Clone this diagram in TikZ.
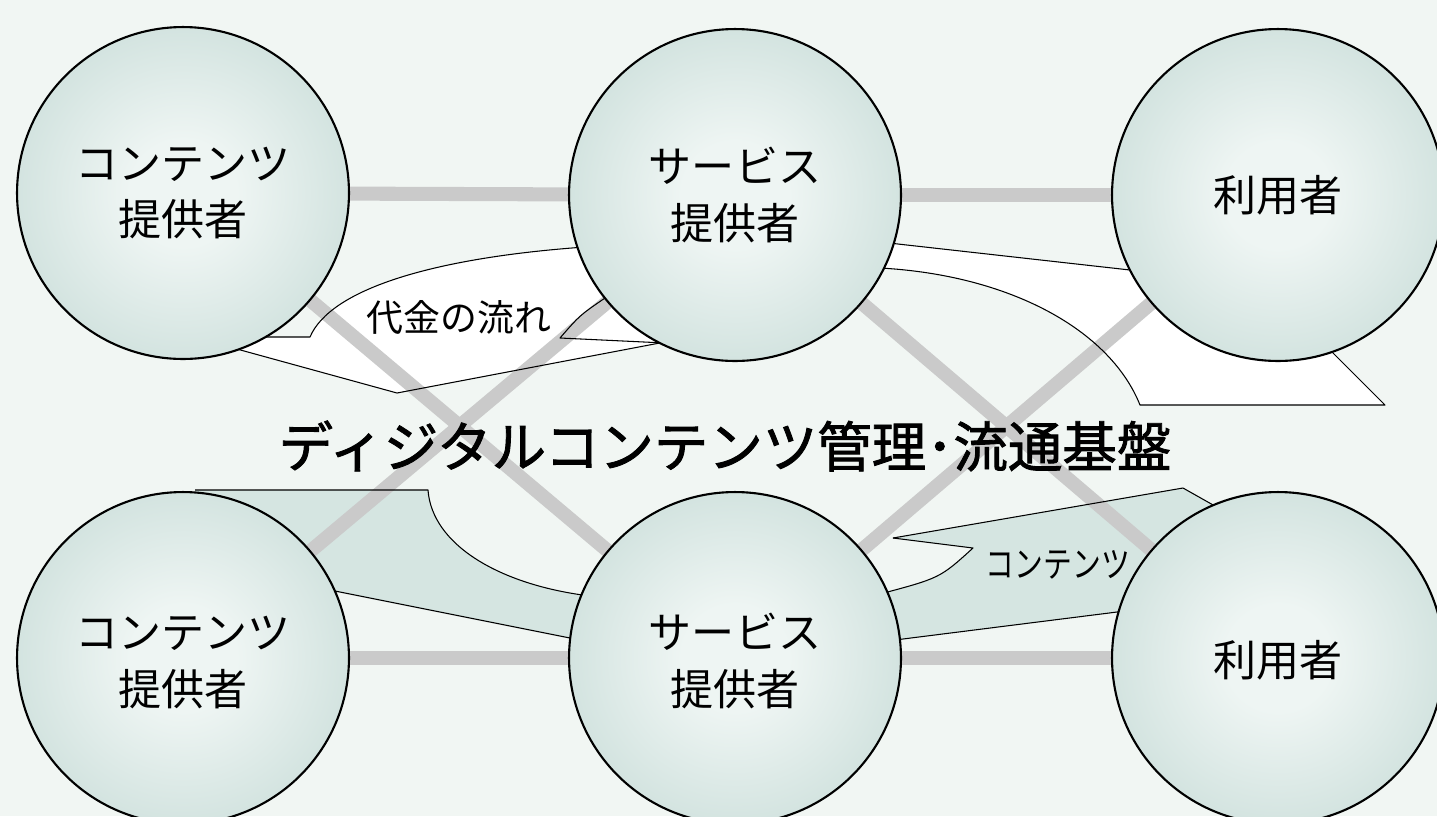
\documentclass[tikz,border=0pt]{standalone}
\usepackage{fontspec}
\newfontfamily\cjk{Noto Sans CJK JP}
\newfontfamily\cjkt[FakeBold=1.6]{Noto Sans CJK JP}
\definecolor{bgc}{RGB}{241,246,243}
\definecolor{circin}{RGB}{238,245,243}
\definecolor{circout}{RGB}{172,202,196}
\definecolor{bandteal}{RGB}{213,229,225}
\definecolor{barc}{RGB}{202,202,202}
\pgfdeclareradialshading{ballshade}{\pgfpoint{0bp}{0bp}}{color(0bp)=(circin); color(8bp)=(circin); color(50bp)=(circout)}
\pgfdeclarelayer{bandfill}
\pgfdeclarelayer{bars}
\pgfdeclarelayer{bandline}
\pgfsetlayers{bandfill,bars,bandline,main}
\tikzset{
  actor/.style={circle, draw=black, line width=1.2pt, minimum size=6.64cm, inner sep=0pt,
    shading=ballshade, align=center, font=\cjk\fontsize{24.5pt}{32.4pt}\selectfont},
  bar/.style={draw=barc, line width=8pt, shorten <=-8pt, shorten >=-8pt},
  bandline/.style={draw=black, line width=0.6pt, line join=round},
}
\begin{document}
\begin{tikzpicture}[x=0.02cm,y=-0.02cm]
\useasboundingbox (0,0) rectangle (1437,816);
\begin{pgfonlayer}{bandfill}
  \fill[bgc] (0,0) rectangle (1437,816);
  % money flow band, right part
  \fill[white] (880,242) -- (1130,270) -- (1300,330) -- (1325,345) -- (1385,405) -- (1140,405)
     .. controls (1110,330) and (1010,275) .. (880,268) -- (860,255) -- cycle;
  % money flow band, left part
  \fill[white] (585,247) .. controls (430,258) and (330,290) .. (310,337) -- (240,337) -- (215,343)
     -- (397,393) -- (665,342) -- (640,280) -- cycle;
  % content band, left part
  \fill[bandteal] (195,490) -- (428,490) .. controls (432,545) and (500,585) .. (590,596)
     -- (590,642) -- (320,588) -- (250,560) -- cycle;
  % content band, right part
  \fill[bandteal] (973,548) -- (893,538) -- (1183,488) -- (1222,510) -- (1250,560) -- (1125,611)
     -- (895,640) -- (870,600) -- (880,594) .. controls (940,578) .. (973,548) -- cycle;
\end{pgfonlayer}

\node[actor] (tl) at (183,193) {コンテンツ\\提供者};
\node[actor] (tm) at (735,195) {サービス\\提供者};
\node[actor] (tr) at (1278,195) {利用者};
\node[actor] (bl) at (183,658) {\\[-9pt]コンテンツ\\提供者};
\node[actor] (bm) at (735,658) {\\[-9pt]サービス\\提供者};
\node[actor] (br) at (1278,658) {\\[-9pt]利用者};

\begin{pgfonlayer}{bars}
  \draw[bar] (tl) -- (tm);
  \draw[bar] (tm) -- (tr);
  \draw[bar] (bl) -- (bm);
  \draw[bar] (bm) -- (br);
  \draw[bar] (tl) -- (bm);
  \draw[bar] (bl) -- (tm);
  \draw[bar] (tm) -- (br);
  \draw[bar] (bm) -- (tr);
\end{pgfonlayer}

\begin{pgfonlayer}{bandline}
  % money flow
  \draw[bandline] (880,242) -- (1130,270);
  \draw[bandline] (880,268) .. controls (1010,275) and (1110,330) .. (1140,405) -- (1385,405) -- (1320,340);
  \draw[bandline] (585,247) .. controls (430,258) and (330,290) .. (310,337) -- (240,337);
  \draw[bandline] (215,343) -- (397,393) -- (665,342);
  \draw[bandline] (608,296) .. controls (580,315) .. (560,338) -- (665,343);
  % content
  \draw[bandline] (195,490) -- (428,490) .. controls (432,545) and (500,585) .. (590,596);
  \draw[bandline] (320,588) -- (590,642);
  \draw[bandline] (893,538) -- (1183,488) -- (1222,510);
  \draw[bandline] (893,538) -- (973,548) .. controls (940,578) .. (880,594);
  \draw[bandline] (895,640) -- (1125,611);
\end{pgfonlayer}

\node[font=\cjk\fontsize{21pt}{24pt}\selectfont] (money) at (459,317) {代金の流れ};
\node[font=\cjk\fontsize{20.5pt}{24pt}\selectfont, xscale=0.8] (content) at (1058,565) {コンテンツ};
\node[font=\cjkt\fontsize{31pt}{34pt}\selectfont] (title) at (725,446) {ディジタルコンテンツ管理･流通基盤};
\end{tikzpicture}
\end{document}
